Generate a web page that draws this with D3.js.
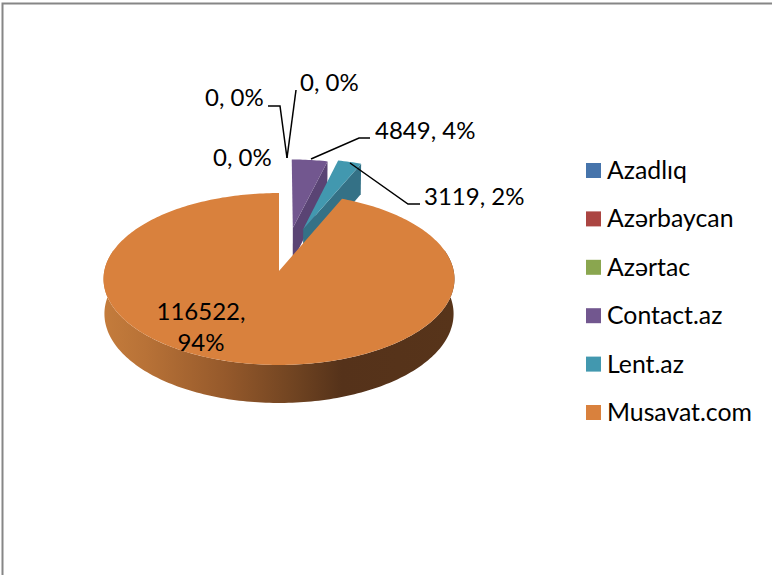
<!DOCTYPE html>
<html><head><meta charset="utf-8">
<script src="https://cdnjs.cloudflare.com/ajax/libs/d3/7.8.5/d3.min.js"></script>
<style>html,body{margin:0;padding:0;background:#fff}svg{display:block}text{font-family:Lato,"Open Sans",sans-serif;fill:#000}</style>
</head><body><svg id="c" width="772" height="575"></svg>
<script>
const categories = ["Azadlıq","Azərbaycan","Azərtac","Contact.az","Lent.az","Musavat.com"];
const values = [0,0,0,4849,3119,116522];
const percents = [0,0,0,4,2,94];
const colors = ["#4674ab","#ab4542","#8aa64f","#72578f","#4298af","#d9813d"];
const darkColors = ["#34567f","#7f3331","#667b3a","#5a4474","#347186","#a5622e"];

const W=772,H=575, FS=24, LFS=24.8;
const svg=d3.select("#c");
// frame
svg.append("path").attr("d",`M2.5,${H}V3.5H${W}`).attr("fill","none").attr("stroke","#868686").attr("stroke-width",2);

// projective view of the tilted pie
const cx=279, cy=271, Rx=174.7, Ry=85.2, k=0.093, depth=34.5;
function project(u,v,low){
  const w=1+k*v, s=low?0.995:1;
  return [cx+s*Rx*u/w, cy-Ry*v/w+(low?depth/w:0)];
}
const pie=d3.pie().sort(null).startAngle(0).endAngle(2*Math.PI);
const arcs=pie(values);
const color=d3.scaleOrdinal(categories,colors);
const dark=d3.scaleOrdinal(categories,darkColors);
const line=d3.line();
// exploded slice placement: offset of apex and radius in pie units
const explode={"Contact.az":{u:.083,v:.53,r:.96},"Lent.az":{u:.145,v:.515,r:.99},"Musavat.com":{u:0,v:0,r:1}};
function rim(a0,a1,o,low){
  const n=Math.max(2,Math.ceil((a1-a0)/0.02));
  return d3.range(n+1).map(i=>{
    const t=a0+(a1-a0)*i/n;
    return project(o.u+o.r*Math.sin(t),o.v+o.r*Math.cos(t),low);
  });
}
const defs=svg.append("defs");
const g=defs.append("linearGradient").attr("id","wall").attr("gradientUnits","userSpaceOnUse")
  .attr("x1",103).attr("x2",454).attr("y1",0).attr("y2",0);
[[0,"#c47c3c"],[.12,"#b87237"],[.35,"#95592b"],[.55,"#6f4321"],[.68,"#55321a"],[1,"#57341a"]]
  .forEach(s=>g.append("stop").attr("offset",s[0]).attr("stop-color",s[1]));

// exploded slices back to front
["Contact.az","Lent.az"].forEach(name=>{
  const d=arcs[categories.indexOf(name)], o=explode[name];
  const apexT=project(o.u,o.v,false), apexB=project(o.u,o.v,true);
  const endT=rim(d.endAngle,d.endAngle,o,false)[0], endB=rim(d.endAngle,d.endAngle,o,true)[0];
  svg.append("path").attr("d",line([apexT,endT,endB,apexB])+"Z").attr("fill",dark(name));
  svg.append("path").attr("d",line([apexT,...rim(d.startAngle,d.endAngle,o,false)])+"Z").attr("fill",color(name));
});
// main slice
const m=arcs[5], mo=explode["Musavat.com"];
const lo=Math.max(m.startAngle,Math.PI*.42), hi=Math.min(m.endAngle,Math.PI*1.58);
svg.append("path").attr("d",line([...rim(lo,hi,mo,false),...rim(lo,hi,mo,true).reverse()])+"Z").attr("fill","url(#wall)");
svg.append("path").attr("d",line([project(0,0,false),...rim(m.startAngle,m.endAngle,mo,false)])+"Z").attr("fill",color("Musavat.com"));

// leader lines
const leaders=[[[287,158],[296,90]],[[287,158],[280,106],[268,106]],[[311,159],[359,138],[370,138]],[[350,163],[408,204],[420,204]]];
leaders.forEach(p=>svg.append("path").attr("d",line(p)).attr("fill","none").attr("stroke","#000").attr("stroke-width",1.5));

// data labels
const lab=(i)=>`${values[i]}, ${percents[i]}%`;
const labels=[[lab(0),213,166],[lab(1),205,106],[lab(2),300,91],[lab(3),375,139],[lab(4),424,205]];
labels.forEach(l=>svg.append("text").attr("x",l[1]).attr("y",l[2]).attr("font-size",FS).text(l[0]));
svg.append("text").attr("x",201).attr("y",320).attr("text-anchor","middle").attr("font-size",FS).text(values[5]+",");
svg.append("text").attr("x",201).attr("y",351).attr("text-anchor","middle").attr("font-size",FS).text(percents[5]+"%");

// legend
const ly=d3.scalePoint(categories,[163,405]);
const leg=svg.append("g").selectAll("g").data(categories).join("g").attr("transform",d=>`translate(0,${ly(d)})`);
leg.append("rect").attr("x",586).attr("width",15).attr("height",15).attr("fill",d=>color(d));
leg.append("text").attr("x",607).attr("y",16).attr("font-size",LFS).text(d=>d);
</script></body></html>
